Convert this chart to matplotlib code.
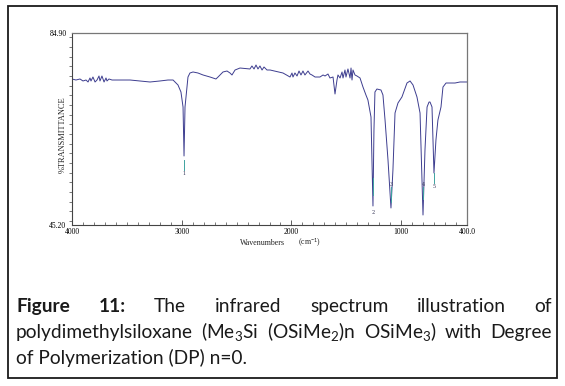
import matplotlib
matplotlib.use('Agg')
import matplotlib.pyplot as plt
from matplotlib.patches import Rectangle
from matplotlib.ticker import MultipleLocator

# ---------------- data ----------------
wavenumber = [4000, 3964, 3927, 3900, 3872, 3854, 3836, 3827, 3809, 3790,
              3772, 3754, 3745, 3727, 3708, 3690, 3681, 3663, 3635, 3563,
              3471, 3380, 3289, 3198, 3125, 3079, 3034, 3007, 2988, 2979,
              2970, 2952, 2943, 2925, 2897, 2852, 2806, 2742, 2688, 2669,
              2624, 2587, 2560, 2542, 2514, 2469, 2378, 2360, 2341, 2323,
              2305, 2287, 2268, 2250, 2223, 2195, 2077, 2013, 1995, 1986,
              1968, 1949, 1931, 1913, 1895, 1877, 1849, 1831, 1813, 1785,
              1740, 1712, 1694, 1667, 1649, 1621, 1603, 1585, 1576, 1557,
              1539, 1530, 1512, 1503, 1485, 1466, 1457, 1448, 1439, 1421,
              1403, 1375, 1348, 1321, 1303, 1275, 1257, 1248, 1239, 1221,
              1184, 1166, 1147, 1120, 1093, 1075, 1056, 1029, 993, 947,
              919, 892, 856, 828, 801, 783, 764, 746, 737, 719,
              701, 683, 665, 637, 619, 591, 509, 464, 400]
transmittance = [75.39, 75.18, 75.39, 74.98, 75.18, 74.77, 75.60, 74.98, 75.80, 74.77,
                 75.18, 76.01, 74.98, 76.01, 74.77, 75.60, 74.98, 75.39, 75.18, 75.18,
                 75.18, 74.98, 74.77, 74.98, 75.18, 75.18, 74.15, 72.70, 69.60, 59.47,
                 69.60, 73.73, 75.80, 76.63, 76.84, 76.63, 76.22, 75.80, 75.39, 75.80,
                 76.84, 77.04, 76.63, 76.22, 77.25, 77.66, 77.46, 78.08, 77.46, 78.28,
                 77.46, 78.08, 77.25, 77.87, 77.25, 77.25, 76.63, 75.80, 76.63, 75.80,
                 76.63, 76.01, 77.04, 76.22, 77.04, 76.22, 77.04, 76.42, 76.22, 75.80,
                 75.80, 76.22, 76.01, 76.42, 75.60, 75.80, 72.29, 75.18, 76.22, 75.60,
                 76.84, 75.60, 77.25, 75.80, 77.46, 75.60, 77.66, 75.18, 77.25, 76.22,
                 76.01, 75.60, 73.73, 72.08, 71.05, 67.53, 49.13, 64.84, 72.70, 73.32,
                 73.11, 72.08, 66.91, 58.64, 48.72, 56.57, 68.36, 70.43, 71.67, 74.56,
                 74.98, 74.15, 71.67, 68.36, 47.27, 60.71, 69.60, 70.63, 70.63, 69.60,
                 55.95, 62.78, 66.91, 69.60, 73.73, 74.56, 74.56, 74.77, 74.77]

peak_wn = [2979, 1257, 1093, 801, 701]
peak_labels = ['1', '2', '3', '4', '5']
peak_line_top = [58.6, 55.0, 53.0, 53.0, 55.9]
peak_line_bottom = [56.6, 51.5, 50.0, 50.5, 53.9]
peak_label_y = [55.9, 47.7, 53.5, 53.5, 53.1]

x_tick_values = [4000, 3000, 2000, 1000, 400]
x_tick_labels = ['4000', '3000', '2000', '1000', '400.0']
y_tick_values = [45.2, 84.9]
y_tick_labels = ['45.20', '84.90']

caption_line1 = [('Figure', 'bold'), ('11:', 'bold'), ('The', 'normal'),
                 ('infrared', 'normal'), ('spectrum', 'normal'),
                 ('illustration', 'normal'), ('of', 'normal')]
caption_line2 = [('polydimethylsiloxane', 'normal'), ('(Me$_3$Si', 'normal'),
                 ('(OSiMe$_2$)n', 'normal'), ('OSiMe$_3$)', 'normal'),
                 ('with', 'normal'), ('Degree', 'normal')]
caption_line3 = 'of Polymerization (DP) n=0.'

# ---------------- figure ----------------
plt.rcParams['mathtext.fontset'] = 'custom'
plt.rcParams['mathtext.rm'] = 'Lato'
plt.rcParams['mathtext.it'] = 'Lato:italic'
plt.rcParams['mathtext.bf'] = 'Lato:bold'

W, H = 565, 386
fig = plt.figure(figsize=(W / 100, H / 100), dpi=100)


def px_rect(x0, y0, x1, y1):
    return [x0 / W, 1 - y1 / H, (x1 - x0) / W, (y1 - y0) / H]


ax = fig.add_axes(px_rect(72, 33, 467, 225))
line_color = '#3d3d8f'
ax.plot(wavenumber, transmittance, color=line_color, lw=0.7)
ax.set_xlim(4000, 400)
ax.set_ylim(45.2, 84.9)

mark_color = '#3fa3a0'
for wn, lab, yt, yb, yl in zip(peak_wn, peak_labels, peak_line_top,
                                peak_line_bottom, peak_label_y):
    ax.plot([wn, wn], [yb, yt], color=mark_color, lw=0.7)
    ax.text(wn, yl, lab, fontsize=3.5, ha='center', va='center',
            family='DejaVu Serif', color='#333355')

serif = 'Liberation Serif'
ax.set_xticks(x_tick_values)
ax.set_xticklabels(x_tick_labels, family=serif, fontsize=5.5)
ax.xaxis.set_minor_locator(MultipleLocator(100))
ax.tick_params(axis='x', which='major', direction='in', length=3.5, width=0.6,
               pad=2, color='#444444')
ax.tick_params(axis='x', which='minor', direction='in', length=2, width=0.5,
               color='#444444')
ax.set_yticks(y_tick_values)
ax.set_yticklabels(y_tick_labels, family=serif, fontsize=5.5)
ax.yaxis.set_minor_locator(MultipleLocator(2))
ax.tick_params(axis='y', which='major', direction='out', length=0, pad=4)
ax.tick_params(axis='y', which='minor', direction='out', length=2, width=0.5,
               color='#444444')
for s in ['left', 'bottom']:
    ax.spines[s].set_color('#444444')
    ax.spines[s].set_linewidth(0.8)
for s in ['top', 'right']:
    ax.spines[s].set_color('#777777')
    ax.spines[s].set_linewidth(0.9)

fig.text(63 / W, 1 - 135 / H, '%TRANSMITTANCE', rotation=90, family=serif,
         fontsize=6.0, ha='center', va='center', color='#222222')
fig.text(262 / W, 1 - 243 / H, 'Wavenumbers', family=serif, fontsize=5.7,
         ha='center', va='center', color='#222222')
fig.text(310 / W, 1 - 243 / H, '(cm$^{-1}$)', family=serif, fontsize=5.7,
         ha='center', va='center', color='#222222')

# outer box
fig.add_artist(Rectangle((8 / W, 1 - 378 / H), (557 - 8) / W, (378 - 6) / H,
                         transform=fig.transFigure, fill=False,
                         ec='#1a1a1a', lw=1.3))

# caption
cap_fs = 13.8
cap_color = '#1a1a1a'


def justified(words, baseline_px, left_px, right_px):
    texts = []
    for w, wt in words:
        t = fig.text(0, 1 - baseline_px / H, w, family='Lato', fontsize=cap_fs,
                     fontweight=wt, va='baseline', ha='left', color=cap_color)
        texts.append(t)
    fig.canvas.draw()
    r = fig.canvas.get_renderer()
    widths = [t.get_window_extent(r).width for t in texts]
    gap = (right_px - left_px - sum(widths)) / (len(words) - 1)
    x = left_px
    for t, wdt in zip(texts, widths):
        t.set_x(x / W)
        x += wdt + gap


justified(caption_line1, 312, 16, 552)
justified(caption_line2, 338, 16, 552)
fig.text(16 / W, 1 - 364 / H, caption_line3, family='Lato', fontsize=cap_fs,
         va='baseline', ha='left', color=cap_color)

fig.savefig('out.png', dpi=100)
